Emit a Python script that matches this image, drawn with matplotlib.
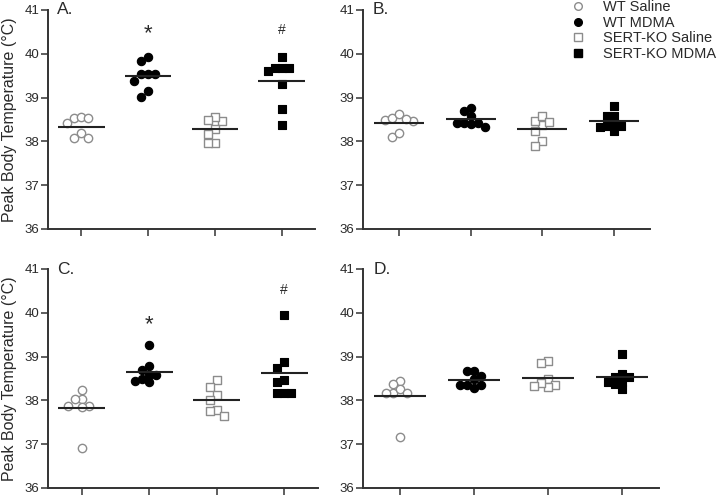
import matplotlib
matplotlib.use('Agg')
import matplotlib.pyplot as plt
from matplotlib.lines import Line2D
import numpy as np

plt.rcParams['font.family'] = ['Liberation Sans', 'DejaVu Sans']

groups = ['WT Saline', 'WT MDMA', 'SERT-KO Saline', 'SERT-KO MDMA']
panel_labels = ['A.', 'B.', 'C.', 'D.']
y_ticks = [36, 37, 38, 39, 40, 41]
y_label = 'Peak Body Temperature (°C)'

# Panel A
a_wt_sal = [38.53, 38.55, 38.41, 38.53, 38.20, 38.07, 38.07]
a_wt_mdma = [39.54, 39.54, 39.39, 39.54, 39.84, 39.93, 39.16, 39.02]
a_ko_sal = [38.47, 38.56, 38.49, 38.28, 38.17, 37.97, 37.97]
a_ko_mdma = [39.92, 39.67, 39.67, 39.67, 39.61, 39.31, 38.74, 38.37]
# Panel B
b_wt_sal = [38.49, 38.53, 38.47, 38.62, 38.51, 38.11, 38.20]
b_wt_mdma = [38.76, 38.70, 38.58, 38.43, 38.43, 38.34, 38.43, 38.40]
b_ko_sal = [38.37, 38.47, 38.59, 38.45, 38.24, 38.01, 37.90]
b_ko_mdma = [38.81, 38.58, 38.58, 38.35, 38.41, 38.24, 38.34, 38.36]
# Panel C
c_wt_sal = [38.23, 38.03, 38.03, 37.88, 37.85, 37.88, 36.91]
c_wt_mdma = [39.27, 38.78, 38.69, 38.59, 38.49, 38.59, 38.41, 38.44]
c_ko_sal = [38.46, 38.31, 38.12, 38.01, 37.79, 37.76, 37.65]
c_ko_mdma = [39.96, 38.88, 38.74, 38.46, 38.42, 38.18, 38.16, 38.18]
# Panel D
d_wt_sal = [38.45, 38.18, 38.25, 38.18, 38.37, 38.18, 37.17]
d_wt_mdma = [38.68, 38.68, 38.50, 38.56, 38.35, 38.28, 38.35, 38.35]
d_ko_sal = [38.91, 38.86, 38.48, 38.35, 38.31, 38.40, 38.33]
d_ko_mdma = [39.06, 38.60, 38.53, 38.43, 38.43, 38.37, 38.53, 38.25]

panels = [
    [a_wt_sal, a_wt_mdma, a_ko_sal, a_ko_mdma],
    [b_wt_sal, b_wt_mdma, b_ko_sal, b_ko_mdma],
    [c_wt_sal, c_wt_mdma, c_ko_sal, c_ko_mdma],
    [d_wt_sal, d_wt_mdma, d_ko_sal, d_ko_mdma],
]

# significance marks: (panel index, group index, symbol, y)
sig_marks = [
    (0, 1, '*', 40.45), (0, 3, '#', 40.55),
    (2, 1, '*', 39.72), (2, 3, '#', 40.52),
]

W, H = 720, 497
fig = plt.figure(figsize=(W / 100, H / 100), dpi=100)

rects_px = [
    (48, 10, 267, 219),
    (363, 10, 287, 219),
    (48, 269, 270, 219),
    (363, 269, 296, 219),
]

styles = [
    dict(marker='o', facecolors='white', edgecolors='#8c8c8c', s=36, linewidths=1.0),
    dict(marker='o', facecolors='black', edgecolors='black', s=36, linewidths=0.8),
    dict(marker='s', facecolors='white', edgecolors='#8c8c8c', s=32, linewidths=1.0),
    dict(marker='s', facecolors='black', edgecolors='black', s=32, linewidths=0.8),
]

text_color = '#2a2a2a'
axis_color = '#333333'


def swarm_offsets(vals, px_x, px_y, d=7.0):
    vals = np.asarray(vals, dtype=float)
    order = np.argsort(-vals, kind='stable')
    placed = []
    offs = np.zeros(len(vals))
    for i in order:
        y = vals[i] * px_y
        for k in [0, -1, 1, -2, 2, -3, 3, -4, 4]:
            xo = k * d
            if all(np.hypot(xo - px, y - py) >= d * 0.98 for px, py in placed):
                break
        placed.append((xo, y))
        offs[i] = xo / px_x
    return offs


axes = []
for p, (x0, y0, w, h) in enumerate(rects_px):
    ax = fig.add_axes([x0 / W, 1 - (y0 + h) / H, w / W, h / H])
    axes.append(ax)
    ax.set_xlim(0.5, 4.5)
    ax.set_ylim(36, 41)
    for s in ['top', 'right']:
        ax.spines[s].set_visible(False)
    for s in ['left', 'bottom']:
        ax.spines[s].set_color(axis_color)
        ax.spines[s].set_linewidth(1.4)
    ax.set_yticks(y_ticks)
    ax.set_xticks([1, 2, 3, 4])
    ax.set_xticklabels([])
    ax.tick_params(axis='both', direction='out', length=5, width=1.1,
                   color=axis_color, labelsize=9.5, labelcolor=text_color, pad=1)
    px_x = w / 4.0
    px_y = h / 5.0
    for g, vals in enumerate(panels[p]):
        offs = swarm_offsets(vals, px_x, px_y)
        ax.scatter(np.full(len(vals), g + 1) + offs, vals, zorder=2, clip_on=False, **styles[g])
        m = np.mean(vals)
        ax.hlines(m, g + 1 - 0.35, g + 1 + 0.35, color='#222222', lw=1.5, zorder=3)
    ax.text(0.035, 1.0, panel_labels[p], transform=ax.transAxes, fontsize=12.5,
            color=text_color, ha='left', va='center')
    if p in (0, 2):
        ax.set_ylabel(y_label, fontsize=11.5, color=text_color)
        ax.yaxis.set_label_coords(-31.0 / w, 0.5)

for p, g, sym, y in sig_marks:
    if sym == '*':
        axes[p].text(g + 1, y, sym, ha='center', va='center', fontsize=16, color=text_color)
    else:
        axes[p].text(g + 1, y, sym, ha='center', va='center', fontsize=10, color=text_color)

handles = [
    Line2D([], [], ls='none', marker='o', mfc='white', mec='#8c8c8c', ms=5.5, mew=1.0),
    Line2D([], [], ls='none', marker='o', mfc='black', mec='black', ms=5.5),
    Line2D([], [], ls='none', marker='s', mfc='white', mec='#8c8c8c', ms=5.5, mew=1.0),
    Line2D([], [], ls='none', marker='s', mfc='black', mec='black', ms=5.5),
]
fig.legend(handles, groups, loc='upper left', bbox_to_anchor=(571 / W, 1.0),
           frameon=False, fontsize=10.5, handlelength=1.0, handletextpad=1.19,
           labelspacing=0.12, borderpad=0, borderaxespad=0, labelcolor=text_color)

fig.savefig('out.png', dpi=100)
